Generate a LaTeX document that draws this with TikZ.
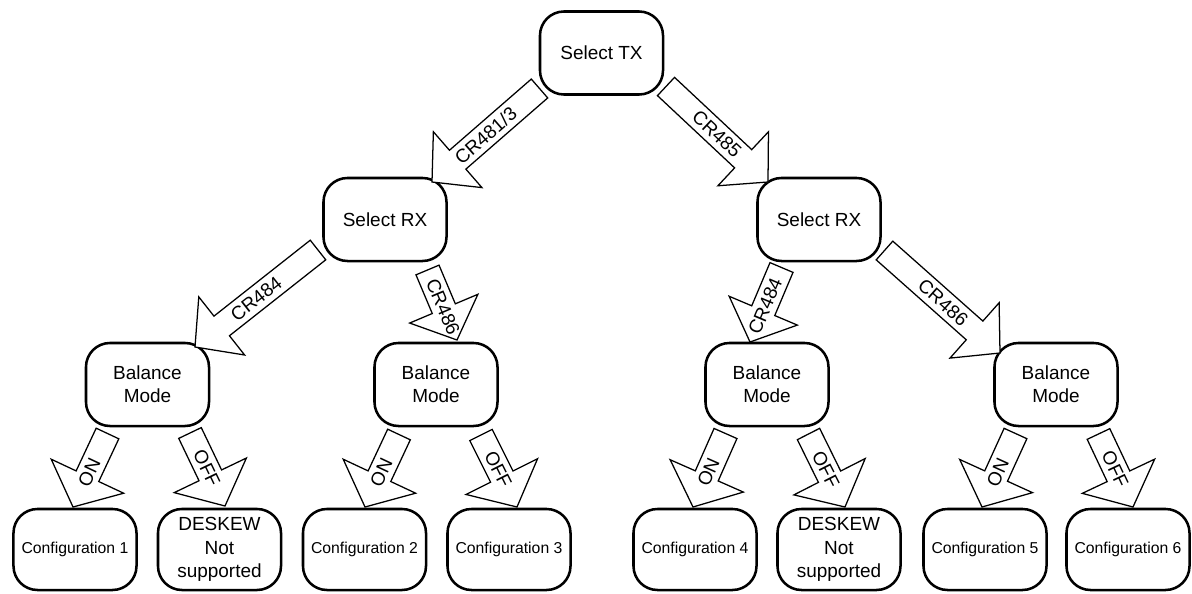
\documentclass[tikz,border=0pt]{standalone}
\usepackage{fontspec}
\setmainfont{Liberation Sans}
\usetikzlibrary{calc}
\def\sw{0.3125cm}
\def\hl{0.85cm}
\newcommand\blockarrow[5]{%
 \draw[arr] let \p1=($(#2)-(#1)$), \n1={atan2(\y1,\x1)} in
  ($(#1)+(\n1+90:\sw)$) -- ($(#2)+(\n1+180:\hl)+(\n1+90:\sw)$) -- ($(#2)+(\n1+180:\hl)+(\n1+90:#3)$) -- (#2)
  -- ($(#2)+(\n1+180:\hl)+(\n1-90:#3)$) -- ($(#2)+(\n1+180:\hl)+(\n1-90:\sw)$) -- ($(#1)+(\n1-90:\sw)$) -- cycle;
 \path let \p1=($(#2)-(#1)$), \n1={atan2(\y1,\x1)}, \n2={cos(\n1)>0 ? \n1 : \n1+180} in
  ($(#2)+(\n1+180:#5)$) node[lbl, rotate=\n2] {#4};
}
\begin{document}
\begin{tikzpicture}[x=0.025cm,y=-0.025cm,
 box/.style={draw, line width=1.8pt, rounded corners=0.6cm, minimum width=3.075cm, minimum height=2.075cm, align=center, inner sep=0pt, font=\fontsize{13.5}{16.5}\selectfont},
 cfg/.style={box, minimum height=2.025cm, font=\fontsize{11.2}{13}\selectfont},
 dsk/.style={box, minimum height=2.025cm},
 arr/.style={draw, line width=0.9pt, fill=white, line join=miter},
 lbl/.style={font=\fontsize{13.5}{15}\selectfont, inner sep=0pt}]
\useasboundingbox (0,0) rectangle (1192,593);
% nodes
\node[box] (tx) at (601.5,53) {Select TX};
\node[box] (rxL) at (385,219.5) {Select RX};
\node[box] (rxR) at (819,219.5) {Select RX};
\node[box] (bm1) at (147.5,384.5) {Balance\\Mode};
\node[box] (bm2) at (436,384.5) {Balance\\Mode};
\node[box] (bm3) at (767,384.5) {Balance\\Mode};
\node[box] (bm4) at (1056,384.5) {Balance\\Mode};
\node[cfg] (c1) at (75,549.5) {Configuration 1};
\node[dsk] (d1) at (219.5,549.5) {DESKEW\\Not\\supported};
\node[cfg] (c2) at (364.5,549.5) {Configuration 2};
\node[cfg] (c3) at (509,549.5) {Configuration 3};
\node[cfg] (c4) at (695,549.5) {Configuration 4};
\node[dsk] (d2) at (839,549.5) {DESKEW\\Not\\supported};
\node[cfg] (c5) at (985,549.5) {Configuration 5};
\node[cfg] (c6) at (1128,549.5) {Configuration 6};
% arrow ends
\coordinate (a1s) at (539.5,88.5); \coordinate (a1e) at (432,182);
\coordinate (a2s) at (666,86.5);   \coordinate (a2e) at (768,182);
\coordinate (a3s) at (318,250);    \coordinate (a3e) at (195,347);
\coordinate (a4s) at (427.5,270);  \coordinate (a4e) at (457,340);
\coordinate (a5s) at (781.5,267.5);\coordinate (a5e) at (750,342);
\coordinate (a6s) at (884.5,250.5);\coordinate (a6e) at (1000,353);
\coordinate (on1s) at (107.5,433.5); \coordinate (on1e) at (73,507);
\coordinate (of1s) at (190,433);     \coordinate (of1e) at (225,506);
\coordinate (on2s) at (399,434.5);   \coordinate (on2e) at (365,507);
\coordinate (of2s) at (481,435);     \coordinate (of2e) at (517,507);
\coordinate (on3s) at (725.5,433.5); \coordinate (on3e) at (693,507);
\coordinate (of3s) at (808.5,434);   \coordinate (of3e) at (845,507);
\coordinate (on4s) at (1015.5,433.5);\coordinate (on4e) at (982,507);
\coordinate (of4s) at (1098.5,434);  \coordinate (of4e) at (1133,507);
% arrows
\blockarrow{a1s}{a1e}{0.925cm}{CR481/3}{1.775cm}
\blockarrow{a2s}{a2e}{0.925cm}{CR485}{1.75cm}
\blockarrow{a3s}{a3e}{0.925cm}{CR484}{1.95cm}
\blockarrow{a4s}{a4e}{0.925cm}{CR486}{0.9cm}
\blockarrow{a5s}{a5e}{0.925cm}{CR484}{0.975cm}
\blockarrow{a6s}{a6e}{0.925cm}{CR486}{1.9cm}
\blockarrow{on1s}{on1e}{1.0cm}{ON}{0.95cm}
\blockarrow{of1s}{of1e}{1.0cm}{OFF}{1.05cm}
\blockarrow{on2s}{on2e}{1.0cm}{ON}{0.95cm}
\blockarrow{of2s}{of2e}{1.0cm}{OFF}{1.05cm}
\blockarrow{on3s}{on3e}{1.0cm}{ON}{0.95cm}
\blockarrow{of3s}{of3e}{1.0cm}{OFF}{1.05cm}
\blockarrow{on4s}{on4e}{1.0cm}{ON}{0.95cm}
\blockarrow{of4s}{of4e}{1.0cm}{OFF}{1.05cm}
\end{tikzpicture}
\end{document}
